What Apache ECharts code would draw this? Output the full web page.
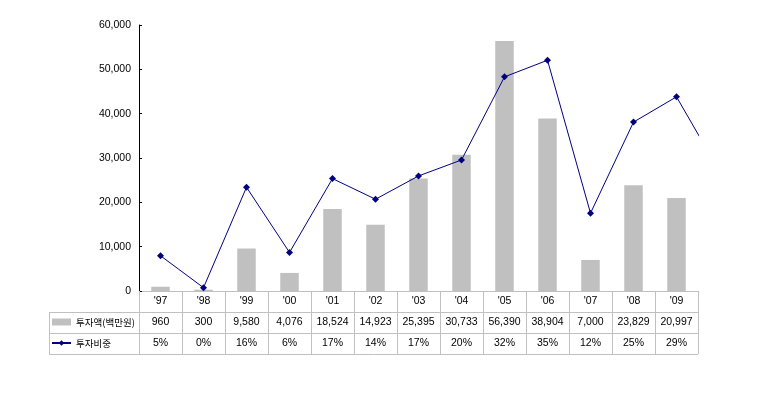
<!DOCTYPE html>
<html>
<head>
<meta charset="utf-8">
<script src="https://cdn.jsdelivr.net/npm/echarts@6/dist/echarts.min.js"></script>
<style>
html,body{margin:0;padding:0;background:#fff;}
#c{width:761px;height:417px;}
</style>
</head>
<body>
<div id="c"></div>
<script>
// ---- data ----
const categories = ["'97","'98","'99","'00","'01","'02","'03","'04","'05","'06","'07","'08","'09"];
const investAmount = [960, 300, 9580, 4076, 18524, 14923, 25395, 30733, 56390, 38904, 7000, 23829, 20997];
const investRatio = [5.3, 0.5, 15.6, 5.8, 16.9, 13.8, 17.3, 19.7, 32.2, 34.7, 11.7, 25.4, 29.2];
const ratioLabels = ["5%","0%","16%","6%","17%","14%","17%","20%","32%","35%","12%","25%","29%"];
const ratioBeyond = [18.0]; // next point past '09, only its segment start is visible (clipped)
const seriesNames = ['투자액(백만원)', '투자비중'];
const yMax = 60000, yStep = 10000;
const ratioAxisMax = 40;

// ---- layout ----
const G = {left: 139, top: 25, right: 698, bottom: 291};
const rowH = 21;
const tableLeft = 49;
const lineColor = '#c0c0c0';
const numFont = "'Liberation Sans', Arial, sans-serif";
const krFont = "'Noto Sans CJK KR', sans-serif";

function fmt(n){ return String(n).replace(/\B(?=(\d{3})+(?!\d))/g, ','); }

const linePts = investRatio.map((v,i)=>[i,v]).concat(ratioBeyond.map((v,j)=>[investRatio.length + j, v]));

const chart = echarts.init(document.getElementById('c'), null, {renderer:'canvas'});

const hLines = [G.bottom + rowH, G.bottom + 2*rowH, G.bottom + 3*rowH].map(y => ({
  type:'line', silent:true,
  shape:{x1: tableLeft, y1: y + 0.5, x2: G.right, y2: y + 0.5},
  style:{stroke: lineColor, lineWidth: 1}
}));
hLines.push({
  type:'line', silent:true,
  shape:{x1: tableLeft + 0.5, y1: G.bottom + rowH, x2: tableLeft + 0.5, y2: G.bottom + 3*rowH},
  style:{stroke: lineColor, lineWidth: 1}
});

chart.setOption({
  backgroundColor:'#ffffff',
  animation:false,
  grid:{left:G.left, top:G.top, width:G.right-G.left, height:G.bottom-G.top, containLabel:false},
  legend:{
    orient:'vertical', left: tableLeft + 2, top: G.bottom + rowH + 3,
    itemWidth: 19, itemHeight: 7, itemGap: 7, padding: 0,
    textStyle:{fontFamily: krFont, fontSize: 9.5, color:'#000', lineHeight: 14},
    data:[{name: seriesNames[0], icon:'rect'}, {name: seriesNames[1]}]
  },
  xAxis:[{
    type:'category', data: categories, boundaryGap:true,
    axisLine:{show:true, onZero:false, lineStyle:{color: lineColor, width:1}},
    axisTick:{show:true, interval:0, alignWithLabel:false, length: 3*rowH, lineStyle:{color: lineColor}},
    axisLabel:{
      interval:0, margin:0, color:'#000',
      formatter:(val, idx) => `{r|${val}}\n{r|${fmt(investAmount[idx])}}\n{r|${ratioLabels[idx]}}`,
      rich:{r:{fontFamily:numFont, fontSize:10.5, color:'#000', lineHeight:rowH, height:rowH, align:'center'}}
    },
    splitLine:{show:false}
  },{
    type:'value', min:-0.5, max:categories.length - 0.5, show:false
  }],
  yAxis:[{
    type:'value', min:0, max:yMax, interval:yStep,
    axisLine:{show:true, onZero:false, lineStyle:{color:'#000', width:1}},
    axisTick:{show:true, inside:true, length:3, lineStyle:{color:'#000'}},
    axisLabel:{margin:8, color:'#000', fontFamily:numFont, fontSize:10.5, formatter: v => fmt(v)},
    splitLine:{show:false}
  },{
    type:'value', min:0, max:ratioAxisMax, show:false
  }],
  graphic: hLines,
  series:[{
    name: seriesNames[0], type:'bar', data: investAmount, barWidth:'43%',
    itemStyle:{color:'#c0c0c0'}, xAxisIndex:0, yAxisIndex:0
  },{
    name: seriesNames[1], type:'line', data: linePts, xAxisIndex:1, yAxisIndex:1,
    clip:true, symbol:'diamond', symbolSize:7, showAllSymbol:true,
    lineStyle:{color:'#000080', width:1}, itemStyle:{color:'#000080'}
  }]
});
</script>
</body>
</html>
